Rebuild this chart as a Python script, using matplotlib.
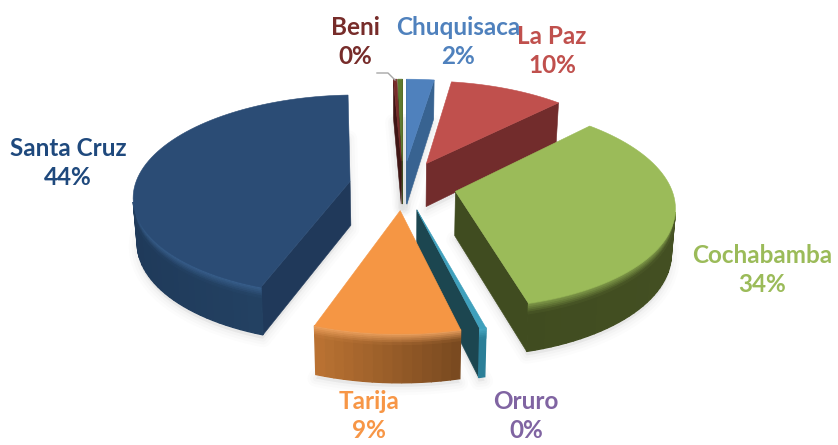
import numpy as np
import matplotlib
matplotlib.use("Agg")
import matplotlib.pyplot as plt
from matplotlib.colors import to_rgb, to_hex
from matplotlib.patches import Polygon

# --- data (clockwise from north) ---
categories = ["Chuquisaca", "La Paz", "Cochabamba", "Oruro", "Tarija", "Santa Cruz", "Beni", "Pando"]
values = [2.4, 10.0, 33.4, 0.4, 9.2, 43.9, 0.3, 0.4]
pct_labels = ["2%", "10%", "34%", "0%", "9%", "44%", "0%", ""]

top_colors = ["#4F81BD", "#C0504D", "#9BBB59", "#3FA0BC", "#F59644", "#2B4C75", "#772C2A", "#5F7A2E"]
flat_colors = ["#386391", "#722C2C", "#404C20", "#1C4650", "#7A4A20", "#20395A", "#3F1514", "#3F4B21"]
arc_left = ["#386391", "#722C2C", "#404C20", "#2B7F98", "#BD7433", "#1F3A5A", "#3F1514", "#3F4B21"]
arc_right = ["#386391", "#722C2C", "#434F22", "#2B7F98", "#7A4A20", "#264668", "#3F1514", "#3F4B21"]
rim_colors = ["#4F81BD", "#C0504D", "#86A24D", "#4BACC6", "#F2A561", "#3A618F", "#772C2A", "#5F7A2E"]
label_colors = {"Beni": "#772C2A", "Chuquisaca": "#4F81BD", "La Paz": "#C0504D", "Cochabamba": "#9BBB59",
                "Oruro": "#8064A2", "Tarija": "#F79646", "Santa Cruz": "#1F497D"}
label_pos = {"Beni": (355, 42), "Chuquisaca": (458, 42), "La Paz": (552, 51), "Cochabamba": (762, 270),
             "Oruro": (526, 416), "Tarija": (369, 416), "Santa Cruz": (68, 163)}

EXPLODE = 0.25
CX, CY, A, B, K = 403.0, 185.0, 215.0, 99.0, 0.135
RIM_STEPS = 6
RIM_DEPTH = 0.22


def project(u, v, z=0.0):
    den = 1 - K * v
    x = CX + A * u / den * (1 - 0.015 * z)
    y = CY + B * v / den + (44 + 4 * v) * z
    return np.array([x, y])


def lerp(c1, c2, t):
    a, b = np.array(to_rgb(c1)), np.array(to_rgb(c2))
    return tuple(a + (b - a) * t)


def signed_area(q):
    n = len(q)
    return sum(q[j][0] * q[(j + 1) % n][1] - q[(j + 1) % n][0] * q[j][1] for j in range(n))


fig = plt.figure(figsize=(8.38, 4.45), dpi=100)
ax = fig.add_axes([0, 0, 1, 1])
ax.set_xlim(0, 838)
ax.set_ylim(445, 0)
ax.axis("off")


def poly(pts, color, z, lw=0.4):
    ax.add_patch(Polygon(pts, closed=True, facecolor=color, edgecolor=color, lw=lw, zorder=z))


edges = np.cumsum([0] + values) / sum(values) * 2 * np.pi
slices = []
for i, name in enumerate(categories):
    a0, a1 = edges[i], edges[i + 1]
    mid = (a0 + a1) / 2
    ou, ov = EXPLODE * np.sin(mid), -EXPLODE * np.cos(mid)
    n = max(2, int((a1 - a0) / np.radians(2)))
    th = np.linspace(a0, a1, n)
    arc = [(ou + np.sin(t), ov - np.cos(t)) for t in th]
    slices.append((ov, i, (ou, ov), arc))

# soft shadows below everything
for ov, i, apex, arc in slices:
    loop = [apex] + arc
    bot = np.array([project(u, v, 1.0) + [0, 4] for u, v in loop])
    for lw, al in ((12, 0.025), (8, 0.03), (4, 0.04)):
        ax.add_patch(Polygon(bot, closed=True, facecolor="#808080", edgecolor="#808080",
                             lw=lw, alpha=al, zorder=1, joinstyle="round"))

zo = 2.0
for ov, i, apex, arc in sorted(slices, key=lambda s: s[0]):
    # radial walls
    for p, q in ((apex, arc[0]), (arc[-1], apex)):
        quad = [project(*p, 0), project(*q, 0), project(*q, 1), project(*p, 1)]
        if signed_area(quad) < 0:
            poly(quad, flat_colors[i], zo)
    zo += 0.01
    # outer wall, shaded along the arc, blending out of a bevel at its top
    xs = [project(*p, 0)[0] for p in arc]
    xmin, xmax = min(xs), max(xs)
    for j in range(len(arc) - 1):
        p, q = arc[j], arc[j + 1]
        quad = [project(*p, 0), project(*q, 0), project(*q, 1), project(*p, 1)]
        if signed_area(quad) < 0:
            t = (quad[0][0] - xmin) / max(xmax - xmin, 1)
            hexcol = to_hex(lerp(arc_left[i], arc_right[i], t))
            poly(quad, hexcol, zo, lw=1.0)
            for s in range(RIM_STEPS):
                z0 = RIM_DEPTH * s / RIM_STEPS
                z1 = RIM_DEPTH * (s + 1) / RIM_STEPS
                band = [project(*p, z0), project(*q, z0), project(*q, z1), project(*p, z1)]
                poly(band, lerp(rim_colors[i], hexcol, (s + 0.5) / RIM_STEPS), zo + 0.001 + s * 1e-5, lw=0.8)
    zo += 0.01
    # top surface
    top = [project(*apex, 0)] + [project(u, v, 0) for u, v in arc]
    poly(top, top_colors[i], zo)
    zo += 0.01

# leader line for Beni
ax.plot([377, 388, 395], [73, 73, 80], color="#A6A6A6", lw=1.0, zorder=20)

# labels
for name, pct in zip(categories, pct_labels):
    if name not in label_pos:
        continue
    x, y = label_pos[name]
    ax.text(x, y, f"{name}\n{pct}", color=label_colors[name], ha="center", va="center",
            family=["Lato", "DejaVu Sans"], fontweight="bold", fontsize=17.5, linespacing=1.35, zorder=30)

fig.savefig("out.png", dpi=100)
